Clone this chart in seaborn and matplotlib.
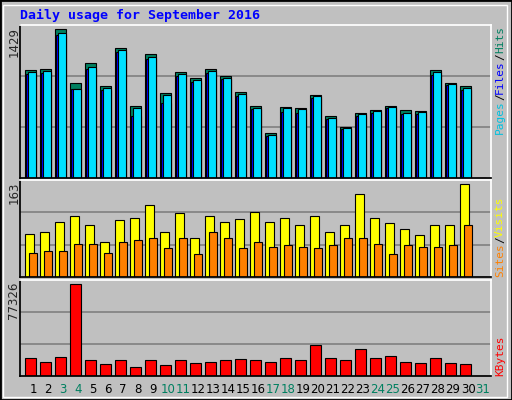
import matplotlib
matplotlib.use("Agg")
import matplotlib.pyplot as plt
import seaborn as sns
import numpy as np

days = list(range(1, 32))
hits = [1006,1015,1388,884,1074,856,1211,669,1155,791,990,931,1015,949,800,669,417,660,651,772,576,473,604,632,669,632,623,1006,884,856,0]
files = [987,996,1351,828,1034,837,1192,651,1127,772,968,912,996,931,781,651,398,651,641,763,557,464,595,623,660,604,613,987,875,837,0]
pages = [975,985,1340,830,1020,825,1180,580,1110,700,955,900,985,920,770,640,390,620,610,750,550,455,580,610,650,595,600,960,865,825,0]
visits = [73,76,92,102,88,58,95,99,121,75,107,66,102,92,97,110,92,99,88,102,76,88,139,99,90,80,71,87,88,156,0]
sites = [41,44,44,56,56,41,59,63,65,48,66,39,76,65,48,58,51,54,51,49,53,65,65,56,39,54,51,51,54,87,0]
kbytes = [14850,11610,15660,74250,13230,9990,13230,7560,13230,9180,13230,10800,11610,13230,14040,13230,11610,14850,13230,24570,14850,13230,22140,14850,16470,11610,10800,14850,10800,9990,0]
weekends = [3,4,10,11,17,18,24,25,31]
max_hits, max_visits, max_kb = 1429, 163, 77326

sns.set_theme(style="white")
plt.rcParams['font.family'] = ['DejaVu Sans Mono', 'DejaVu Sans']
W, H = 512, 400
fig = plt.figure(figsize=(W/100, H/100), dpi=100, facecolor="#C0C0C0")
fig.patches.append(plt.Rectangle((0,0),1,1,transform=fig.transFigure,fill=False,ec="black",lw=2))
fig.patches.append(plt.Rectangle((3/W,3/H),(W-8)/W,(H-8)/H,transform=fig.transFigure,fill=False,ec="white",lw=1))

def mkax(top, bottom):
    return fig.add_axes([20/W, 1-bottom/H, (491-20)/W, (bottom-top)/H])

d = np.array(days, dtype=float)
def style(ax, ymax, label):
    ax.set_facecolor("#C0C0C0")
    ax.set_xlim(0.5, 31.9)
    ax.set_ylim(0, ymax)
    for f in (1/3, 2/3):
        ax.axhline(ymax*f, color="#808080", lw=1.2, zorder=0)
    ax.set_xticks([]); ax.set_yticks([])
    for s in ax.spines.values():
        s.set_color("black")
    ax.spines["top"].set_color("white"); ax.spines["right"].set_color("white")
    fig.text(14/W, ax.get_position().y1 - 2/H, label, rotation=90, ha="center", va="top", fontsize=8.5, family="DejaVu Sans")

ax1 = mkax(25, 178)
style(ax1, max_hits, str(max_hits))
ax1.bar(d-0.15, hits, width=0.72, align="edge", color="#008060", ec="black", lw=0.8)
ax1.bar(d-0.08, pages, width=0.64, align="edge", color="#0000FF", ec="black", lw=0.8)
ax1.bar(d+0.01, files, width=0.56, align="edge", color="#00E0FF", ec="black", lw=0.8)

ax2 = mkax(180, 277)
style(ax2, max_visits, str(max_visits))
ax2.bar(d-0.15, visits, width=0.55, align="edge", color="#FFFF00", ec="black", lw=0.8)
ax2.bar(d+0.1, sites, width=0.5, align="edge", color="#FF8000", ec="black", lw=0.8)

ax3 = mkax(280, 376)
style(ax3, max_kb, str(max_kb))
ax3.bar(d-0.15, kbytes, width=0.7, align="edge", color="#FF0000", ec="black", lw=0.8)

for x in days:
    ax3.text(x+0.37, -0.14, str(x), transform=ax3.get_xaxis_transform(), ha="center", va="center",
             fontsize=8.5, family="DejaVu Sans", color="#008060" if x in weekends else "black")

fig.text(20/W, 1-15/H, "Daily usage for September 2016", color="#0000FF", fontsize=9.5, fontweight="bold", va="center")

fig.canvas.draw()
renderer = fig.canvas.get_renderer()
def rtext(ypix, parts):
    y = ypix
    for t, c in parts:
        txt = fig.text(500/W, 1-y/H, t, color=c, rotation=90, ha="center", va="bottom", fontsize=8)
        bb = txt.get_window_extent(renderer)
        y -= bb.height
rtext(134, [("Pages", "#00C0E0"), ("/", "black"), ("Files", "#0000FF"), ("/", "black"), ("Hits", "#008060")])
rtext(277, [("Sites", "#FF8000"), ("/", "black"), ("Visits", "#FFFF00")])
rtext(376, [("KBytes", "#FF0000")])

fig.savefig("out.png", dpi=100, facecolor=fig.get_facecolor())
